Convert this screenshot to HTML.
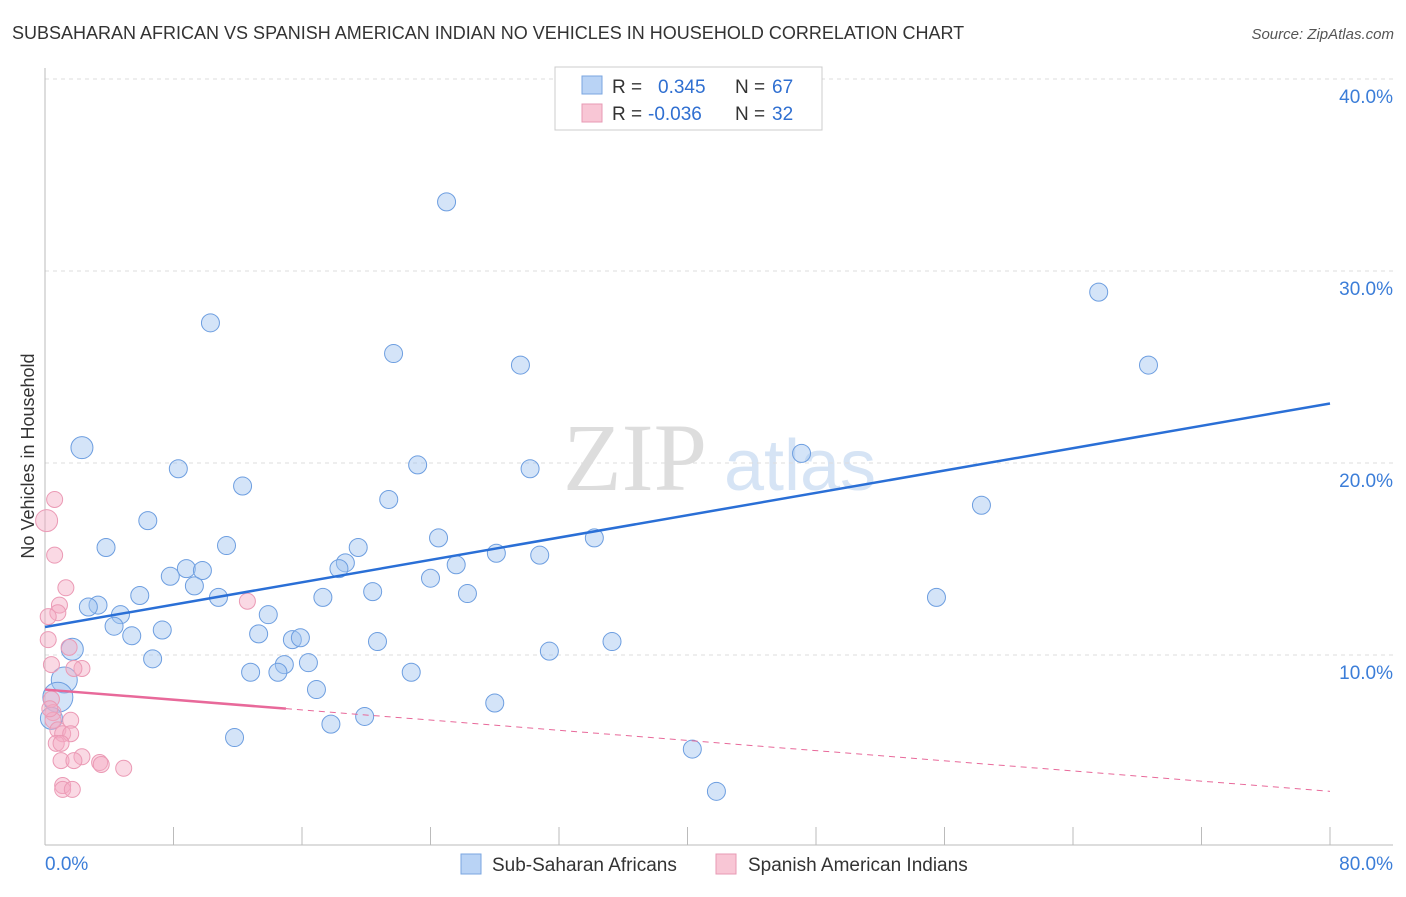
<!DOCTYPE html>
<html><head><meta charset="utf-8"><style>
body{margin:0;background:#fff;font-family:"Liberation Sans",sans-serif;}
</style></head><body>
<svg id="c" width="1406" height="892" xmlns="http://www.w3.org/2000/svg" style="font-family:'Liberation Sans',sans-serif">
<text x="12" y="39" font-size="18" fill="#333">SUBSAHARAN AFRICAN VS SPANISH AMERICAN INDIAN NO VEHICLES IN HOUSEHOLD CORRELATION CHART</text>
<text x="1394" y="39" font-size="15" fill="#555" font-style="italic" text-anchor="end">Source: ZipAtlas.com</text>
<text x="635" y="490" font-size="96" fill="#ddd" font-family="Liberation Serif" text-anchor="middle">ZIP</text>
<text x="800" y="490" font-size="72" fill="#d6e4f5" text-anchor="middle">atlas</text>
<text transform="translate(34,456) rotate(-90)" font-size="18" fill="#333" text-anchor="middle">No Vehicles in Household</text>
<g id="grid"></g><g id="pts"></g><g id="lines"></g>
<g>
<rect x="555" y="67" width="267" height="63" fill="#fff" stroke="#ccc"/>
<rect x="582" y="76" width="20" height="18" fill="#b9d3f5" stroke="#7aa6e0"/>
<rect x="582" y="104" width="20" height="18" fill="#f8c6d5" stroke="#e79ab4"/>
<text x="612" y="93" font-size="19" fill="#333">R = </text><text x="658" y="93" font-size="19" fill="#2f6fd1">0.345</text>
<text x="735" y="93" font-size="19" fill="#333">N = </text><text x="772" y="93" font-size="19" fill="#2f6fd1">67</text>
<text x="612" y="120" font-size="19" fill="#333">R = </text><text x="648" y="120" font-size="19" fill="#2f6fd1">-0.036</text>
<text x="735" y="120" font-size="19" fill="#333">N = </text><text x="772" y="120" font-size="19" fill="#2f6fd1">32</text>
</g>
<g>
<rect x="461" y="854" width="20" height="20" fill="#b9d3f5" stroke="#7aa6e0"/>
<text x="492" y="871" font-size="19" fill="#333">Sub-Saharan Africans</text>
<rect x="716" y="854" width="20" height="20" fill="#f8c6d5" stroke="#e79ab4"/>
<text x="748" y="871" font-size="19" fill="#333">Spanish American Indians</text>
</g>
</svg>
<script>
const blueX=[40.6,25.0,65.6,68.7,10.3,21.7,29.6,2.3,8.3,23.2,30.2,47.1,12.3,21.4,58.3,6.4,3.8,11.3,24.5,34.2,19.5,28.1,30.8,18.7,25.6,18.3,8.8,9.8,7.8,24.0,9.3,20.4,5.9,10.8,17.3,26.3,55.5,3.3,2.7,4.7,13.9,4.3,5.4,7.3,13.3,15.4,15.9,20.7,35.3,1.7,31.4,6.7,14.9,16.4,12.8,14.5,22.8,1.2,16.9,0.8,28.0,19.9,17.8,0.4,11.8,40.3,41.8];
const blueY=[37.9,33.6,28.9,25.1,27.3,25.7,25.1,20.8,19.7,19.9,19.7,20.5,18.8,18.1,17.8,17.0,15.6,15.7,16.1,16.1,15.6,15.3,15.2,14.8,14.7,14.5,14.5,14.4,14.1,14.0,13.6,13.3,13.1,13.0,13.0,13.2,13.0,12.6,12.5,12.1,12.1,11.5,11.0,11.3,11.1,10.8,10.9,10.7,10.7,10.3,10.2,9.8,9.5,9.6,9.1,9.1,9.1,8.7,8.2,7.8,7.5,6.8,6.4,6.7,5.7,5.1,2.9];
const blueR=[9,9,9,9,9,9,9,11,9,9,9,9,9,9,9,9,9,9,9,9,9,9,9,9,9,9,9,9,9,9,9,9,9,9,9,9,9,9,9,9,9,9,9,9,9,9,9,9,9,11,9,9,9,9,9,9,9,13,9,15,9,9,9,11,9,9,9];
const pinkX=[0.6,0.1,0.6,1.3,0.9,0.8,0.2,0.2,1.5,2.3,0.4,1.8,12.6,0.4,0.5,1.6,0.5,0.8,1.1,1.6,0.7,1.0,2.3,1.0,1.8,3.4,3.5,4.9,1.1,1.1,1.7,0.3];
const pinkY=[18.1,17.0,15.2,13.5,12.6,12.2,12.0,10.8,10.4,9.3,9.5,9.3,12.8,7.7,7.0,6.6,6.6,6.1,5.9,5.9,5.4,5.4,4.7,4.5,4.5,4.4,4.3,4.1,3.2,3.0,3.0,7.2];
const pinkR=[8,11,8,8,8,8,8,8,8,8,8,8,8,8,8,8,8,8,8,8,8,8,8,8,8,8,8,8,8,8,8,8];
const xTicks=[0,8,16,24,32,40,48,56,64,72,80];
const yTicks=[10,20,30,40];
const blueTrend=[11.46,23.1];
const pinkTrend=[8.2,2.9];
const NS="http://www.w3.org/2000/svg";
const X=v=>45+v*(1285/80), Y=v=>847-v*19.2;
function mk(p,t,a){const e=document.createElementNS(NS,t);for(const k in a)e.setAttribute(k,a[k]);p.appendChild(e);return e;}
const g=document.getElementById('grid');
yTicks.forEach(t=>{
 const l=mk(g,'line',{x1:45,x2:1393,y1:Y(t),y2:Y(t),stroke:'#ddd','stroke-dasharray':'4,4'});
 
 
 const tx=mk(g,'text',{x:1393,y:Y(t)+24,'font-size':19,fill:'#3b7dd8','text-anchor':'end'});
 tx.textContent=t.toFixed(1)+'%';
 
 
});
const ax=mk(g,'line',{x1:45,x2:1393,y1:845,y2:845,stroke:'#bbb'});


const ay=mk(g,'line',{x1:45,x2:45,y1:68,y2:845,stroke:'#bbb'});


xTicks.forEach(t=>{
 const l=mk(g,'line',{x1:X(t),x2:X(t),y1:827,y2:845,stroke:'#bbb'});
 
 
});
[[0,'start'],[80,'end']].forEach(([t,a])=>{
 const tx=mk(g,'text',{x:t===0?45:1393,y:870,'font-size':19,fill:'#3b7dd8','text-anchor':a});
 tx.textContent=t.toFixed(1)+'%';
 
 
});
const p=document.getElementById('pts');
blueX.forEach((v,i)=>{
 const c=mk(p,'circle',{cx:X(v),cy:Y(blueY[i]),r:blueR[i],fill:'rgba(160,195,240,0.45)',stroke:'#6d9ee0','stroke-width':1});
 
 
});
pinkX.forEach((v,i)=>{
 const c=mk(p,'circle',{cx:X(v),cy:Y(pinkY[i]),r:pinkR[i],fill:'rgba(245,170,195,0.45)',stroke:'#eb9ab5','stroke-width':1});
 
 
});
const L=document.getElementById('lines');
const bl=mk(L,'line',{x1:X(0),y1:Y(blueTrend[0]),x2:X(80),y2:Y(blueTrend[1]),stroke:'#2a6fd6','stroke-width':2.5});


const pm=pinkTrend[0]+(pinkTrend[1]-pinkTrend[0])*(15/80);
const pl=mk(L,'line',{x1:X(0),y1:Y(pinkTrend[0]),x2:X(15),y2:Y(pm),stroke:'#e8699a','stroke-width':2.5});


const pd=mk(L,'line',{x1:X(15),y1:Y(pm),x2:X(80),y2:Y(pinkTrend[1]),stroke:'#e8699a','stroke-width':1,'stroke-dasharray':'6,5'});


</script>
</body></html>
